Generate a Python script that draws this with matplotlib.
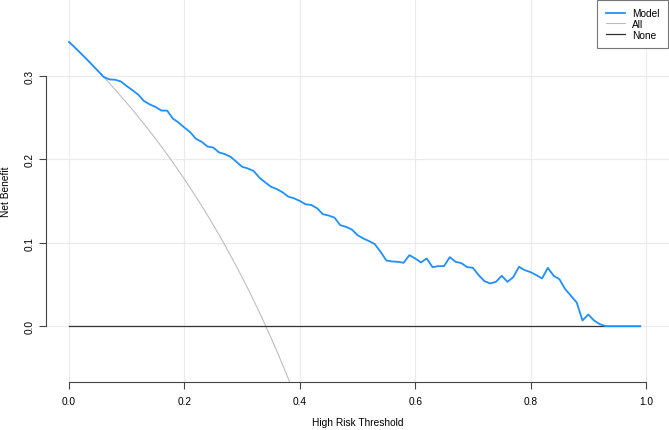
import matplotlib
matplotlib.use("Agg")
import matplotlib.pyplot as plt

plt.rcParams['font.family'] = ['Liberation Sans', 'DejaVu Sans']

thresholds = [0.00, 0.01, 0.02, 0.03, 0.04, 0.05, 0.06, 0.07, 0.08, 0.09,
              0.10, 0.11, 0.12, 0.13, 0.14, 0.15, 0.16, 0.17, 0.18, 0.19,
              0.20, 0.21, 0.22, 0.23, 0.24, 0.25, 0.26, 0.27, 0.28, 0.29,
              0.30, 0.31, 0.32, 0.33, 0.34, 0.35, 0.36, 0.37, 0.38, 0.39,
              0.40, 0.41, 0.42, 0.43, 0.44, 0.45, 0.46, 0.47, 0.48, 0.49,
              0.50, 0.51, 0.52, 0.53, 0.54, 0.55, 0.56, 0.57, 0.58, 0.59,
              0.60, 0.61, 0.62, 0.63, 0.64, 0.65, 0.66, 0.67, 0.68, 0.69,
              0.70, 0.71, 0.72, 0.73, 0.74, 0.75, 0.76, 0.77, 0.78, 0.79,
              0.80, 0.81, 0.82, 0.83, 0.84, 0.85, 0.86, 0.87, 0.88, 0.89,
              0.90, 0.91, 0.92, 0.93, 0.94, 0.95, 0.96, 0.97, 0.98, 0.99]

nb_model = [0.3410, 0.3343, 0.3276, 0.3206, 0.3135, 0.3063, 0.2989, 0.2960, 0.2956, 0.2935,
            0.2880, 0.2830, 0.2777, 0.2700, 0.2660, 0.2630, 0.2586, 0.2586, 0.2490, 0.2442,
            0.2382, 0.2327, 0.2247, 0.2211, 0.2155, 0.2143, 0.2084, 0.2064, 0.2032, 0.1972,
            0.1912, 0.1892, 0.1861, 0.1781, 0.1725, 0.1673, 0.1645, 0.1606, 0.1554, 0.1534,
            0.1502, 0.1462, 0.1454, 0.1414, 0.1343, 0.1327, 0.1303, 0.1212, 0.1192, 0.1160,
            0.1092, 0.1052, 0.1020, 0.0984, 0.0892, 0.0788, 0.0776, 0.0772, 0.0760, 0.0852,
            0.0812, 0.0764, 0.0812, 0.0708, 0.0720, 0.0720, 0.0828, 0.0772, 0.0756, 0.0708,
            0.0700, 0.0612, 0.0540, 0.0512, 0.0532, 0.0604, 0.0532, 0.0588, 0.0712, 0.0672,
            0.0648, 0.0612, 0.0572, 0.0700, 0.0604, 0.0564, 0.0444, 0.0364, 0.0284, 0.0068,
            0.0140, 0.0068, 0.0024, 0.0000, 0.0000, 0.0000, 0.0000, 0.0000, 0.0000, 0.0000]

# treat-all curve (only the part inside the plot window)
nb_all = [0.3410, 0.3343, 0.3276, 0.3206, 0.3135, 0.3063, 0.2989, 0.2914, 0.2837, 0.2758,
          0.2678, 0.2596, 0.2511, 0.2425, 0.2337, 0.2247, 0.2155, 0.2060, 0.1963, 0.1864,
          0.1763, 0.1658, 0.1551, 0.1442, 0.1329, 0.1213, 0.1095, 0.0973, 0.0847, 0.0718,
          0.0586, 0.0449, 0.0309, 0.0164, 0.0015, -0.0139, -0.0297, -0.0460, -0.0629, -0.0803,
          -0.0983]

nb_none = [0.0] * len(thresholds)

x_ticks = [0.0, 0.2, 0.4, 0.6, 0.8, 1.0]
y_ticks = [0.0, 0.1, 0.2, 0.3]

fig = plt.figure(figsize=(6.69, 4.31), dpi=100)
ax = fig.add_axes([46 / 669, 48 / 431, 623 / 669, 383 / 431])

for xv in x_ticks:
    ax.axvline(xv, color="#EBEBEB", lw=0.8, zorder=0)
for yv in y_ticks:
    ax.axhline(yv, color="#EBEBEB", lw=0.8, zorder=0)

ax.plot(thresholds, nb_model, color="#1E90FF", lw=1.3, label="Model", zorder=3)
ax.plot(thresholds[:len(nb_all)], nb_all, color="#BEBEBE", lw=0.8, label="All", zorder=2)
ax.plot(thresholds, nb_none, color="#333333", lw=0.9, label="None", zorder=2)

ax.set_xlim(-0.04, 1.04)
ax.set_ylim(-0.067, 0.3925)

for s in ["top", "right"]:
    ax.spines[s].set_visible(False)
ax.spines["left"].set_bounds(0, 0.3)
ax.spines["bottom"].set_bounds(0, 1)
for s in ["left", "bottom"]:
    ax.spines[s].set_color("#444444")
    ax.spines[s].set_linewidth(0.8)

ax.set_xticks(x_ticks)
ax.set_xticklabels(["0.0", "0.2", "0.4", "0.6", "0.8", "1.0"])
ax.set_yticks(y_ticks)
ax.set_yticklabels(["0.0", "0.1", "0.2", "0.3"], rotation=90, va="center")
ax.tick_params(direction="out", length=5, width=0.8, color="#444444",
               labelsize=7.3, labelcolor="black")
ax.tick_params(axis="x", pad=5)
ax.tick_params(axis="y", pad=3)

ax.set_xlabel("High Risk Threshold", fontsize=7.3, labelpad=8)
ax.set_ylabel("Net Benefit", fontsize=7.3, labelpad=10)

leg = ax.legend(loc="upper right", fontsize=7.3, fancybox=False, edgecolor="#777777",
                framealpha=1, borderaxespad=0.05, handlelength=1.9, labelspacing=0.08,
                borderpad=0.85, handletextpad=0.75)
leg.get_frame().set_linewidth(0.8)

fig.savefig("out.png", dpi=100)
